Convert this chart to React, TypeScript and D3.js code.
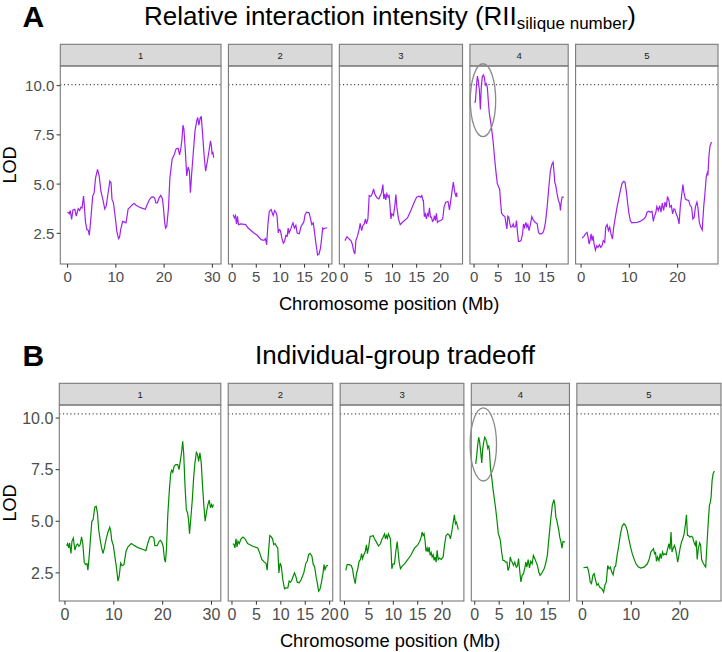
import * as d3 from "d3";
import type { ReactNode } from "react";

// LOD profiles along each chromosome, [position (Mb), LOD]
const chromosomes = ["1", "2", "3", "4", "5"];

const riiChr1: [number, number][] = [
  [0, 3.59], [0.34, 3.49], [0.55, 3.66], [0.83, 3.21], [1.1, 3.69], [1.5, 3.72], [1.8, 3.38], [2.2, 3.76],
  [2.5, 3.66], [2.76, 3.83], [3.0, 3.79], [3.3, 4.39], [3.45, 3.96], [3.7, 3.08], [4.0, 2.69], [4.3, 2.65],
  [4.5, 2.4], [4.8, 3.2], [5.2, 4.39], [5.5, 4.56], [5.8, 5.32], [6.2, 5.75], [6.55, 5.41], [6.9, 4.64],
  [7.3, 4.22], [7.7, 3.74], [8.0, 3.88], [8.4, 4.56], [8.76, 5.15], [9.0, 5.07], [9.2, 4.22], [9.5, 4.05],
  [9.9, 3.28], [10.2, 2.6], [10.55, 2.23], [10.76, 2.3], [11.0, 2.69], [11.4, 3.11], [11.7, 3.08], [12.1, 3.03],
  [12.55, 3.74], [12.97, 3.83], [13.45, 3.96], [13.8, 4.01], [14.2, 3.93], [14.8, 3.84], [15.4, 3.78], [16.1, 3.72],
  [16.55, 3.99], [16.97, 4.22], [17.4, 4.34], [17.8, 4.35], [18.07, 4.27], [18.3, 4.05], [18.6, 4.05], [18.97, 4.3],
  [19.3, 4.42], [19.66, 4.25], [19.86, 3.79], [20.1, 3.11], [20.3, 2.77], [20.55, 2.86], [20.9, 3.79], [21.2, 5.32],
  [21.66, 6.26], [22.07, 6.48], [22.5, 6.8], [22.9, 6.82], [23.2, 6.48], [23.45, 6.77], [23.7, 7.28], [23.9, 7.99],
  [24.1, 7.79], [24.4, 6.68], [24.69, 5.41], [24.97, 5.87], [25.24, 5.66], [25.45, 4.56], [25.7, 5.49], [26.07, 6.68],
  [26.4, 7.7], [26.76, 8.21], [26.97, 8.38], [27.2, 7.99], [27.5, 8.38], [27.7, 8.42], [28.0, 7.45], [28.3, 6.43],
  [28.6, 5.66], [28.97, 6.17], [29.3, 6.68], [29.6, 7.19], [29.8, 6.94], [29.93, 6.51], [30.07, 6.65], [30.28, 6.34],
];
const riiChr2: [number, number][] = [
  [0.2, 3.45], [0.48, 3.28], [0.69, 3.4], [0.89, 2.98], [1.1, 3.37], [1.3, 2.94], [1.8, 2.98], [2.8, 2.94],
  [3.3, 2.77], [4.5, 2.52], [5.2, 2.4], [6.0, 2.18], [6.6, 2.14], [6.9, 2.23], [7.15, 1.92], [7.4, 2.94],
  [7.7, 3.62], [8.1, 3.71], [8.3, 3.54], [8.5, 3.4], [8.8, 3.66], [9.07, 3.57], [9.3, 3.37], [9.55, 2.52],
  [9.76, 2.69], [10.0, 2.64], [10.3, 2.26], [10.6, 2.0], [10.86, 2.09], [11.13, 2.4], [11.4, 2.35], [11.6, 2.77],
  [11.8, 2.52], [12.1, 2.69], [12.37, 2.89], [12.6, 3.03], [12.9, 2.77], [13.2, 2.91], [13.47, 2.52], [13.9, 2.48],
  [14.3, 2.86], [14.85, 3.08], [15.1, 3.45], [15.4, 3.57], [15.95, 3.54], [16.2, 3.28], [16.5, 2.94], [16.8, 3.03],
  [17.0, 2.69], [17.3, 2.09], [17.7, 1.4], [18.0, 1.45], [18.3, 1.75], [18.55, 2.26], [18.76, 2.77], [18.97, 2.72],
  [19.3, 2.77], [19.7, 2.77],
];
const riiChr3: [number, number][] = [
  [0.14, 2.13], [0.55, 2.33], [1.03, 2.21], [1.38, 2.13], [1.66, 1.96], [1.93, 1.62], [2.2, 1.45], [2.41, 2.13],
  [2.76, 2.38], [3.03, 2.64], [3.3, 3.01], [3.6, 2.64], [3.86, 2.89], [4.14, 2.98], [4.4, 3.23], [4.6, 2.98],
  [4.9, 3.23], [5.17, 4.42], [5.5, 4.37], [5.8, 4.51], [6.07, 4.76], [6.3, 4.51], [6.76, 4.3], [7.17, 4.25],
  [7.45, 4.42], [7.7, 4.54], [8.0, 4.98], [8.2, 4.25], [8.4, 4.51], [8.6, 4.2], [8.83, 4.51], [9.1, 4.34],
  [9.3, 4.42], [9.5, 3.83], [9.66, 3.23], [9.86, 3.49], [10.2, 3.4], [10.48, 3.91], [10.7, 4.47], [10.9, 3.83],
  [11.24, 3.23], [11.6, 2.94], [12.07, 3.06], [13.1, 3.28], [13.8, 3.66], [14.5, 4.08], [15.0, 4.34], [15.45, 4.39],
  [15.86, 4.34], [16.07, 4.42], [16.3, 4.17], [16.4, 4.17], [16.6, 3.35], [16.8, 3.49], [17.03, 3.23], [17.24, 3.49],
  [17.45, 3.4], [17.66, 3.79], [17.86, 3.32], [18.07, 3.32], [18.28, 3.11], [18.48, 3.15], [18.7, 3.4], [18.9, 3.15],
  [19.1, 3.52], [19.3, 3.06], [19.5, 3.11], [20.0, 3.15], [20.4, 3.23], [20.7, 3.86], [21.03, 4.08], [21.5, 4.12],
  [21.8, 3.69], [22.07, 4.17], [22.34, 4.64], [22.6, 5.1], [22.9, 4.59], [23.1, 4.42], [23.3, 4.56], [23.35, 4.34],
];
const riiChr4: [number, number][] = [
  [0.07, 9.15], [0.28, 9.18], [0.48, 9.95], [0.69, 10.49], [0.9, 10.2], [1.1, 9.78], [1.31, 8.79], [1.5, 9.95],
  [1.72, 10.46], [1.93, 10.54], [2.13, 10.43], [2.34, 10.03], [2.55, 10.09], [2.75, 9.91], [2.96, 9.18], [3.17, 8.59],
  [3.44, 8.16], [3.72, 7.65], [3.99, 7.06], [4.27, 6.29], [4.54, 5.61], [4.82, 5.02], [5.09, 4.85], [5.3, 4.76],
  [5.5, 4.08], [5.7, 3.52], [6.06, 3.4], [6.4, 3.35], [6.6, 3.01], [6.8, 2.72], [7.0, 3.37], [7.2, 3.32],
  [7.43, 2.98], [7.64, 2.81], [7.9, 2.84], [8.1, 2.98], [8.3, 2.81], [8.6, 2.84], [8.8, 3.15], [9.0, 2.55],
  [9.2, 2.09], [9.5, 2.09], [9.77, 2.16], [10.05, 2.47], [10.25, 2.98], [10.46, 2.81], [10.74, 3.06], [10.94, 2.81],
  [11.15, 2.94], [11.4, 2.64], [11.7, 2.98], [11.97, 3.35], [12.25, 3.18], [12.66, 3.06], [13.08, 2.98], [13.35, 2.55],
  [13.6, 2.47], [13.9, 2.47], [14.18, 2.5], [14.45, 2.64], [14.8, 3.06], [15.14, 3.83], [15.5, 4.85], [15.83, 5.7],
  [16.17, 6.04], [16.38, 6.12], [16.6, 5.53], [16.72, 5.1], [16.93, 4.93], [17.2, 4.51], [17.48, 4.17], [17.75, 4.0],
  [17.9, 3.66], [18.03, 4.03], [18.24, 4.34], [18.58, 4.34],
];
const riiChr5: [number, number][] = [
  [0.2, 2.26], [0.55, 2.33], [0.9, 2.47], [1.24, 2.55], [1.45, 2.3], [1.66, 1.96], [1.86, 2.13], [2.07, 2.47],
  [2.28, 2.13], [2.48, 2.38], [2.69, 1.96], [2.97, 1.65], [3.24, 1.87], [3.5, 1.79], [3.8, 1.92], [4.07, 1.79],
  [4.34, 1.87], [4.6, 2.13], [4.9, 2.04], [5.1, 2.81], [5.4, 2.94], [5.66, 2.64], [5.93, 2.81], [6.2, 2.47],
  [6.5, 2.21], [6.76, 2.81], [7.1, 3.32], [7.45, 3.83], [7.8, 4.25], [8.14, 4.68], [8.5, 5.05], [8.83, 5.14],
  [9.1, 5.1], [9.4, 4.59], [9.66, 4.0], [9.93, 3.49], [10.2, 3.15], [10.5, 3.03], [10.9, 3.04], [11.6, 3.06],
  [12.3, 3.11], [13.0, 3.23], [13.4, 3.35], [13.66, 3.57], [14.0, 3.62], [14.34, 3.57], [14.7, 3.62], [14.97, 3.11],
  [15.17, 3.35], [15.45, 3.52], [15.7, 3.86], [16.0, 3.66], [16.3, 3.91], [16.55, 3.57], [16.83, 4.03], [17.1, 3.66],
  [17.4, 4.08], [17.66, 3.83], [17.9, 4.37], [18.2, 4.17], [18.4, 3.83], [18.7, 3.91], [18.97, 3.49], [19.24, 3.74],
  [19.45, 3.69], [19.7, 3.49], [20.0, 3.32], [20.3, 2.98], [20.55, 3.83], [20.83, 4.42], [21.1, 4.98], [21.3, 4.59],
  [21.6, 4.25], [21.9, 4.2], [22.3, 4.17], [22.6, 3.91], [22.9, 3.83], [23.17, 3.23], [23.45, 3.32], [23.7, 3.86],
  [24.0, 4.08], [24.2, 3.83], [24.5, 3.06], [24.76, 2.84], [25.1, 2.67], [25.4, 3.83], [25.66, 4.51], [25.93, 5.36],
  [26.14, 5.56], [26.28, 5.44], [26.48, 6.38], [26.7, 6.92], [26.9, 7.06], [27.03, 7.14],
];

const tradeChr1: [number, number][] = [
  [0.34, 3.82], [0.54, 3.92], [0.75, 3.71], [0.95, 3.95], [1.22, 3.44], [1.43, 4.03], [1.7, 4.19], [2.04, 3.6],
  [2.3, 3.82], [2.58, 3.9], [2.85, 3.79], [3.12, 3.87], [3.4, 4.24], [3.67, 3.87], [3.94, 3.02], [4.2, 2.9],
  [4.5, 2.95], [4.7, 2.63], [4.96, 3.31], [5.2, 4.11], [5.5, 5.0], [5.77, 5.08], [6.1, 5.69], [6.38, 5.73],
  [6.65, 5.4], [6.9, 4.6], [7.2, 4.11], [7.5, 3.71], [7.8, 3.44], [8.08, 3.71], [8.4, 4.11], [8.8, 4.47],
  [9.17, 4.71], [9.37, 4.52], [9.57, 4.08], [9.9, 3.82], [10.2, 3.31], [10.5, 2.82], [10.86, 2.1], [11.1, 2.34],
  [11.4, 2.98], [11.68, 2.85], [12.08, 2.9], [12.5, 3.55], [12.9, 3.76], [13.58, 3.92], [14.25, 3.82], [15.07, 3.71],
  [16.0, 3.63], [16.56, 3.58], [16.97, 3.95], [17.38, 4.24], [17.8, 4.27], [18.2, 4.19], [18.4, 3.82], [18.87, 3.82],
  [19.28, 4.03], [19.55, 4.08], [19.82, 3.98], [20.1, 3.79], [20.37, 3.15], [20.57, 3.02], [20.77, 3.63], [21.05, 5.32],
  [21.4, 6.61], [21.66, 7.34], [21.86, 7.47], [22.07, 7.37], [22.34, 7.66], [22.67, 7.74], [23.08, 7.74], [23.35, 7.5],
  [23.6, 7.9], [23.9, 8.39], [24.1, 8.87], [24.3, 8.31], [24.58, 6.69], [24.85, 5.56], [25.1, 5.4], [25.3, 5.08],
  [25.5, 4.4], [25.8, 5.24], [26.07, 6.05], [26.34, 7.1], [26.6, 7.82], [26.9, 8.34], [27.15, 8.23], [27.36, 7.9],
  [27.63, 8.31], [27.9, 7.82], [28.17, 6.69], [28.44, 5.73], [28.7, 5.0], [29.0, 5.48], [29.26, 5.81], [29.53, 6.02],
  [29.8, 5.65], [30.0, 5.81], [30.2, 5.69], [30.4, 5.81],
];
const tradeChr2: [number, number][] = [
  [0.2, 3.92], [0.4, 3.87], [0.6, 3.71], [0.82, 4.15], [1.03, 3.76], [1.23, 4.03], [1.5, 3.92], [1.85, 4.15],
  [2.26, 4.24], [2.67, 4.15], [3.2, 3.92], [4.25, 3.79], [5.27, 3.71], [5.68, 3.47], [6.1, 3.15], [6.64, 3.02],
  [7.0, 2.95], [7.2, 2.63], [7.47, 3.47], [7.74, 4.31], [8.0, 4.27], [8.3, 4.15], [8.56, 3.87], [8.84, 3.92],
  [9.1, 3.79], [9.38, 3.71], [9.6, 2.5], [9.86, 2.98], [10.1, 2.82], [10.4, 2.18], [10.75, 1.73], [11.03, 1.77],
  [11.44, 1.77], [11.7, 2.1], [12.0, 2.05], [12.26, 2.15], [12.53, 2.34], [12.8, 2.5], [13.1, 2.31], [13.36, 2.05],
  [13.77, 2.02], [14.18, 2.18], [14.7, 2.5], [15.14, 2.98], [15.4, 3.06], [15.7, 3.39], [15.96, 3.44], [16.37, 3.31],
  [16.64, 2.9], [16.9, 2.82], [17.2, 2.34], [17.47, 2.02], [17.74, 1.61], [18.0, 1.69], [18.3, 2.02], [18.63, 2.47],
  [18.84, 2.9], [19.04, 2.66], [19.3, 2.82], [19.66, 2.87],
];
const tradeChr3: [number, number][] = [
  [0.27, 2.62], [0.55, 2.9], [0.96, 2.9], [1.37, 2.86], [1.64, 2.7], [1.9, 2.3], [2.2, 1.98], [2.46, 2.46],
  [2.73, 2.7], [3.0, 3.06], [3.28, 3.15], [3.5, 3.43], [3.7, 3.19], [3.96, 3.38], [4.23, 3.51], [4.5, 3.86],
  [4.7, 3.43], [5.0, 3.83], [5.26, 4.27], [5.6, 4.28], [5.87, 4.31], [6.14, 4.15], [6.55, 3.99], [6.96, 3.8],
  [7.37, 3.91], [7.65, 4.12], [7.9, 4.23], [8.2, 4.39], [8.4, 4.15], [8.6, 4.31], [8.8, 4.18], [9.0, 4.39],
  [9.2, 4.28], [9.4, 4.15], [9.56, 3.51], [9.7, 2.7], [9.97, 2.94], [10.24, 2.94], [10.5, 3.51], [10.8, 4.02],
  [11.0, 3.51], [11.2, 3.02], [11.47, 2.7], [11.74, 2.8], [12.3, 2.94], [12.97, 3.15], [13.65, 3.38], [14.33, 3.7],
  [15.0, 3.86], [15.4, 4.02], [15.7, 4.23], [15.9, 4.48], [16.1, 4.31], [16.3, 4.39], [16.5, 4.07], [16.7, 3.54],
  [16.93, 3.7], [17.1, 3.51], [17.34, 3.75], [17.54, 3.35], [17.75, 3.48], [17.95, 3.27], [18.16, 3.38], [18.36, 3.11],
  [18.57, 3.27], [18.77, 3.02], [18.98, 3.59], [19.2, 3.15], [19.45, 3.22], [19.8, 3.15], [20.2, 3.27], [20.48, 3.83],
  [20.8, 4.31], [21.16, 4.39], [21.5, 4.31], [21.7, 4.15], [21.98, 4.51], [22.25, 4.93], [22.5, 5.31], [22.73, 4.88],
  [22.9, 4.96], [23.1, 4.8], [23.3, 4.6],
];
const tradeChr4: [number, number][] = [
  [0.2, 7.78], [0.4, 8.19], [0.6, 8.7], [0.8, 9.07], [1.0, 8.83], [1.22, 8.35], [1.43, 7.83], [1.63, 8.51],
  [1.83, 8.83], [2.04, 9.07], [2.24, 8.99], [2.44, 8.83], [2.65, 8.54], [2.85, 8.67], [3.0, 8.43], [3.2, 7.62],
  [3.46, 7.14], [3.73, 6.57], [4.0, 6.09], [4.28, 5.6], [4.55, 5.04], [4.82, 4.4], [5.1, 4.19], [5.23, 4.07],
  [5.5, 3.51], [5.77, 3.1], [6.04, 3.1], [6.3, 3.02], [6.6, 3.02], [6.8, 2.62], [7.06, 2.78], [7.26, 3.27],
  [7.47, 3.1], [7.67, 3.02], [7.94, 2.86], [8.2, 3.02], [8.49, 2.78], [8.76, 2.86], [8.96, 3.19], [9.16, 2.7],
  [9.44, 2.06], [9.7, 2.38], [9.98, 2.46], [10.25, 2.74], [10.45, 3.02], [10.66, 2.78], [10.93, 3.14], [11.2, 2.74],
  [11.47, 3.06], [11.74, 2.94], [12.0, 3.35], [12.3, 3.19], [12.56, 3.02], [12.83, 2.86], [13.1, 2.54], [13.37, 2.38],
  [13.65, 2.46], [13.9, 2.57], [14.2, 2.7], [14.5, 2.94], [14.86, 3.35], [15.2, 4.23], [15.53, 5.04], [15.87, 5.77],
  [16.2, 6.05], [16.4, 5.77], [16.6, 5.2], [16.8, 5.04], [17.0, 4.8], [17.2, 4.56], [17.4, 4.23], [17.65, 3.99],
  [17.86, 3.7], [18.06, 4.02], [18.47, 3.99],
];
const tradeChr5: [number, number][] = [
  [0.2, 2.75], [0.62, 2.77], [1.03, 2.78], [1.3, 2.54], [1.6, 2.06], [1.86, 1.98], [2.14, 2.38], [2.4, 2.46],
  [2.7, 2.14], [2.97, 1.9], [3.24, 1.98], [3.5, 1.81], [3.8, 1.77], [4.07, 1.7], [4.34, 1.57], [4.6, 1.9],
  [4.9, 2.06], [5.17, 2.86], [5.45, 2.7], [5.72, 2.78], [6.0, 2.54], [6.28, 2.41], [6.55, 2.78], [6.8, 2.83],
  [7.1, 3.35], [7.45, 3.83], [7.8, 4.4], [8.14, 4.77], [8.5, 4.88], [8.83, 4.8], [9.17, 4.56], [9.5, 4.15],
  [9.86, 3.75], [10.2, 3.43], [10.55, 3.19], [10.97, 2.94], [11.4, 2.8], [11.93, 2.73], [12.6, 2.78], [13.3, 2.94],
  [13.7, 3.19], [14.0, 3.51], [14.28, 3.59], [14.55, 3.67], [14.76, 3.43], [14.97, 3.48], [15.17, 3.06], [15.38, 3.27],
  [15.66, 3.1], [15.93, 3.43], [16.14, 3.19], [16.4, 3.51], [16.6, 3.38], [16.9, 3.43], [17.17, 3.38], [17.45, 3.67],
  [17.72, 3.91], [17.93, 3.64], [18.14, 4.48], [18.34, 3.51], [18.55, 3.67], [18.83, 3.83], [19.03, 3.7], [19.3, 3.35],
  [19.5, 3.02], [19.7, 3.27], [20.0, 3.7], [20.28, 3.99], [20.55, 4.15], [20.83, 4.4], [21.1, 4.88], [21.3, 5.31],
  [21.5, 4.31], [21.72, 4.31], [22.0, 4.23], [22.28, 4.28], [22.55, 4.23], [22.83, 3.99], [23.1, 3.83], [23.3, 4.07],
  [23.5, 3.15], [23.72, 3.67], [24.0, 3.96], [24.2, 3.83], [24.4, 3.15], [24.7, 2.99], [25.0, 2.86], [25.24, 2.78],
  [25.45, 3.67], [25.72, 4.8], [26.0, 5.77], [26.2, 5.93], [26.34, 6.17], [26.55, 6.98], [26.76, 7.3], [27.03, 7.43],
];

const riiProfiles = [riiChr1, riiChr2, riiChr3, riiChr4, riiChr5];
const tradeProfiles = [tradeChr1, tradeChr2, tradeChr3, tradeChr4, tradeChr5];

// significance thresholds
const riiThreshold = 10.05;
const tradeThreshold = 10.2;

// highlighted QTL on chromosome 4: [centre Mb, centre LOD, radius Mb, radius LOD]
const riiHighlight = [1.85, 9.26, 2.63, 1.85];
const tradeHighlight = [1.75, 8.72, 2.7, 1.77];

const yTicks = [2.5, 5.0, 7.5, 10.0];
const xTicksByChr = [
  [0, 10, 20, 30],
  [0, 5, 10, 15, 20],
  [0, 5, 10, 15, 20],
  [0, 5, 10, 15],
  [0, 10, 20],
];

const FONT = "'Liberation Sans', Arial, sans-serif";
const W = 722;
const H = 652;

interface PanelProps {
  letter: string;
  title: ReactNode;
  titleX: number;
  profiles: [number, number][][];
  threshold: number;
  highlight: number[];
  color: string;
  top: number; // strip top
  left: number;
  right: number;
  panelBottom: number;
  tickFont: number;
}

function expand(lo: number, hi: number): [number, number] {
  const pad = (hi - lo) * 0.05;
  return [lo - pad, hi + pad];
}

function Panel({
  letter,
  title,
  titleX,
  profiles,
  threshold,
  highlight,
  color,
  top,
  left,
  right,
  panelBottom,
  tickFont,
}: PanelProps) {
  const stripH = 21.7;
  const panelTop = top + stripH;
  const gap = 7.4;

  const allLod = profiles.flat().map((d) => d[1]);
  const yDomain = expand(
    Math.min(d3.min(allLod)!, threshold),
    Math.max(d3.max(allLod)!, threshold)
  );
  const y = d3.scaleLinear().domain(yDomain).range([panelBottom, panelTop]);

  const xDomains = profiles.map((p) => {
    const [a, b] = d3.extent(p, (d) => d[0]) as [number, number];
    return expand(a, b);
  });
  const spans = xDomains.map((d) => d[1] - d[0]);
  const avail = right - left - gap * (profiles.length - 1);
  const total = d3.sum(spans);
  let cursor = left;
  const xScales = xDomains.map((dom, i) => {
    const w = (spans[i] / total) * avail;
    const s = d3.scaleLinear().domain(dom).range([cursor, cursor + w]);
    cursor += w + gap;
    return s;
  });

  const line = (xs: d3.ScaleLinear<number, number>) =>
    d3
      .line<[number, number]>()
      .x((d) => xs(d[0]))
      .y((d) => y(d[1]));

  const hx = xScales[3];
  const titleBase = top - 19.5;

  return (
    <g fontFamily={FONT}>
      <text x={22.5} y={titleBase + 2.5} fontSize={30} fontWeight="bold" fill="#000">
        {letter}
      </text>
      <text x={titleX} y={titleBase} fontSize={26} textAnchor="middle" fill="#000">
        {title}
      </text>

      {profiles.map((p, i) => {
        const xs = xScales[i];
        const [x0, x1] = xs.range();
        return (
          <g key={i}>
            <rect
              x={x0}
              y={top}
              width={x1 - x0}
              height={stripH}
              fill="#d9d9d9"
              stroke="#7a7a7a"
              strokeWidth={1.1}
            />
            <text
              x={(x0 + x1) / 2}
              y={top + stripH / 2 + 3.4}
              fontSize={9.5}
              textAnchor="middle"
              fill="#1a1a1a"
            >
              {chromosomes[i]}
            </text>
            <line
              x1={x0}
              x2={x1}
              y1={y(threshold)}
              y2={y(threshold)}
              stroke="#444"
              strokeWidth={1.1}
              strokeDasharray="1.1 2.6"
            />
            <path d={line(xs)(p) ?? ""} fill="none" stroke={color} strokeWidth={1.2} />
            <rect
              x={x0}
              y={panelTop}
              width={x1 - x0}
              height={panelBottom - panelTop}
              fill="none"
              stroke="#7a7a7a"
              strokeWidth={1.1}
            />
            {xTicksByChr[i].map((t) => (
              <g key={t}>
                <line
                  x1={xs(t)}
                  x2={xs(t)}
                  y1={panelBottom}
                  y2={panelBottom + 3.7}
                  stroke="#333"
                  strokeWidth={1}
                />
                <text
                  x={xs(t)}
                  y={panelBottom + 4 + tickFont * 0.93}
                  fontSize={tickFont}
                  textAnchor="middle"
                  fill="#4d4d4d"
                >
                  {t}
                </text>
              </g>
            ))}
          </g>
        );
      })}

      <ellipse
        cx={hx(highlight[0])}
        cy={y(highlight[1])}
        rx={hx(highlight[0] + highlight[2]) - hx(highlight[0])}
        ry={y(highlight[1] - highlight[3]) - y(highlight[1])}
        fill="none"
        stroke="#8a8a8a"
        strokeWidth={1.3}
      />

      {yTicks.map((t) => (
        <g key={t}>
          <line x1={left - 3.7} x2={left} y1={y(t)} y2={y(t)} stroke="#333" strokeWidth={1} />
          <text
            x={left - 6}
            y={y(t) + tickFont * 0.36}
            fontSize={tickFont}
            textAnchor="end"
            fill="#4d4d4d"
          >
            {t.toFixed(1)}
          </text>
        </g>
      ))}

      <text
        transform={`translate(15.5,${(panelTop + panelBottom) / 2}) rotate(-90)`}
        fontSize={18}
        textAnchor="middle"
        fill="#000"
      >
        LOD
      </text>
      <text
        x={(left + right) / 2}
        y={panelBottom + 46}
        fontSize={18.3}
        textAnchor="middle"
        fill="#000"
      >
        Chromosome position (Mb)
      </text>
    </g>
  );
}

export default function App() {
  return (
    <svg width={W} height={H} style={{ display: "block", position: "absolute", left: 0, top: 0 }}>
      <rect width={W} height={H} fill="#fff" />
      <Panel
        letter="A"
        title={
          <>
            Relative interaction intensity (RII
            <tspan fontSize={17} dy={4.5}>
              silique number
            </tspan>
            <tspan dy={-4.5}>)</tspan>
          </>
        }
        titleX={390}
        profiles={riiProfiles}
        threshold={riiThreshold}
        highlight={riiHighlight}
        color="#A020F0"
        top={44.3}
        left={60.3}
        right={718}
        panelBottom={264}
        tickFont={15}
      />
      <Panel
        letter="B"
        title="Individual-group tradeoff"
        titleX={395}
        profiles={tradeProfiles}
        threshold={tradeThreshold}
        highlight={tradeHighlight}
        color="#008B00"
        top={383.3}
        left={59.3}
        right={721}
        panelBottom={601}
        tickFont={16}
      />
    </svg>
  );
}
